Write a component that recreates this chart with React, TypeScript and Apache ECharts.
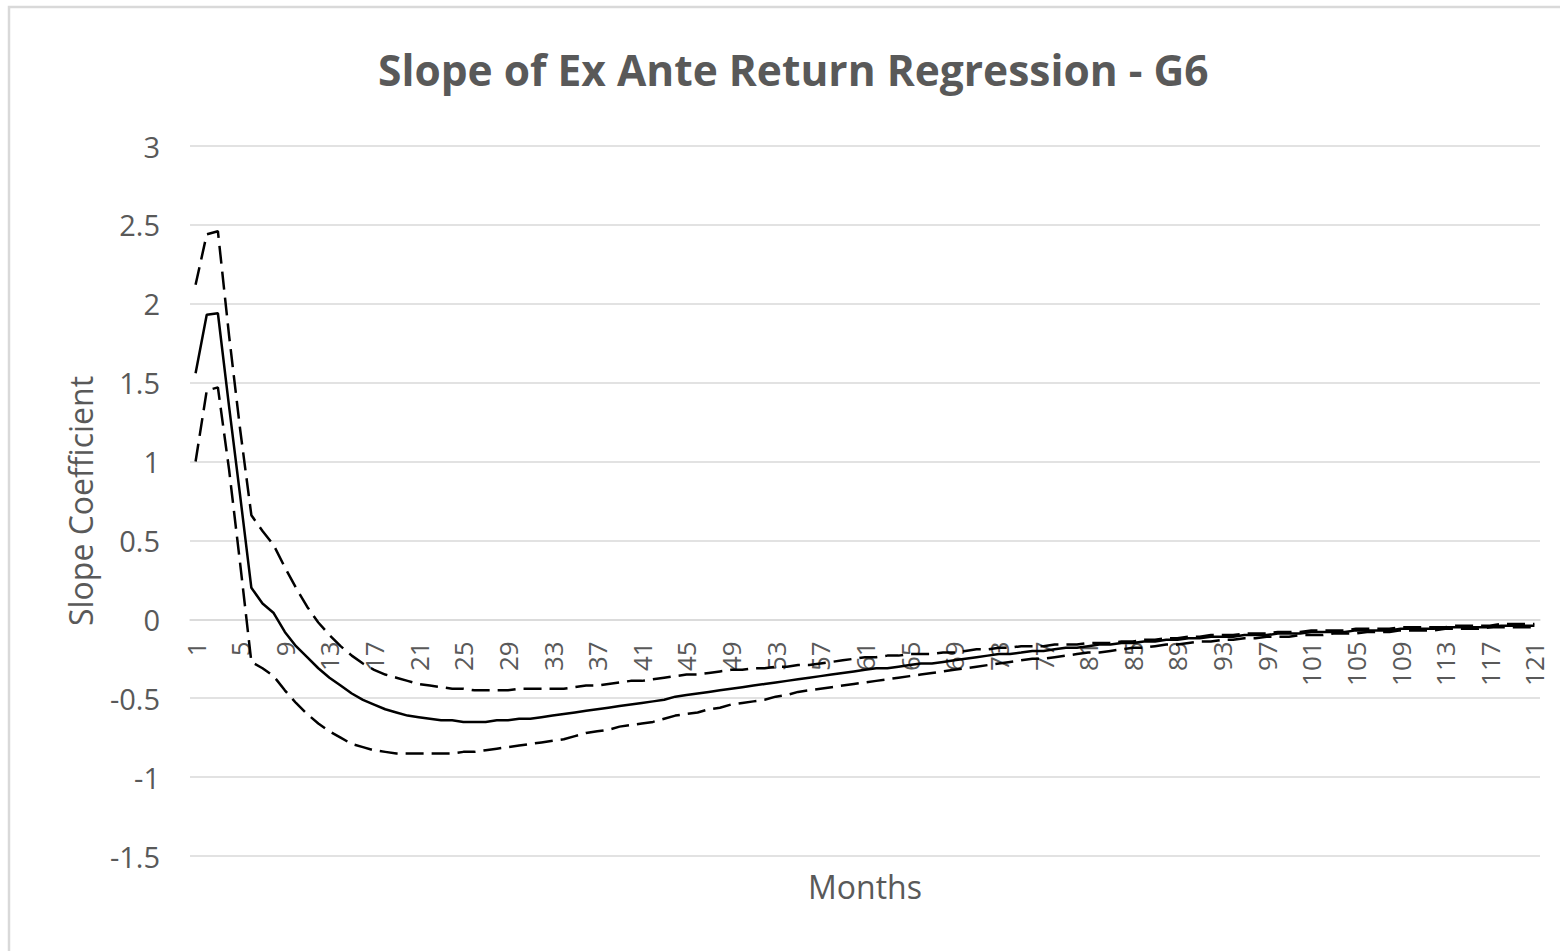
import React, { useEffect, useRef } from "react";
import * as echarts from "echarts";

const months: string[] = [];
for (let m = 1; m <= 121; m++) months.push(String(m));

const slope: number[] = [
  1.56, 1.93, 1.94, 1.35, 0.78, 0.20, 0.10, 0.04, -0.08, -0.17,
  -0.24, -0.31, -0.37, -0.42, -0.47, -0.51, -0.54, -0.57, -0.59, -0.61,
  -0.62, -0.63, -0.64, -0.64, -0.65, -0.65, -0.65, -0.64, -0.64, -0.63,
  -0.63, -0.62, -0.61, -0.60, -0.59, -0.58, -0.57, -0.56, -0.55, -0.54,
  -0.53, -0.52, -0.51, -0.49, -0.48, -0.47, -0.46, -0.45, -0.44, -0.43,
  -0.42, -0.41, -0.40, -0.39, -0.38, -0.37, -0.36, -0.35, -0.34, -0.33,
  -0.32, -0.31, -0.31, -0.30, -0.29, -0.28, -0.28, -0.27, -0.26, -0.25,
  -0.24, -0.23, -0.22, -0.22, -0.21, -0.20, -0.20, -0.19, -0.18, -0.18,
  -0.17, -0.16, -0.16, -0.15, -0.15, -0.14, -0.14, -0.13, -0.13, -0.12,
  -0.12, -0.11, -0.11, -0.11, -0.10, -0.10, -0.10, -0.09, -0.09, -0.09,
  -0.08, -0.08, -0.08, -0.08, -0.07, -0.07, -0.07, -0.07, -0.06, -0.06,
  -0.06, -0.06, -0.05, -0.05, -0.05, -0.05, -0.05, -0.04, -0.04, -0.04,
  -0.04,
];

const upper: number[] = [
  2.12, 2.44, 2.46, 1.80, 1.20, 0.66, 0.56, 0.47, 0.33, 0.20,
  0.08, -0.02, -0.10, -0.17, -0.23, -0.28, -0.32, -0.35, -0.37, -0.39,
  -0.41, -0.42, -0.43, -0.44, -0.44, -0.45, -0.45, -0.45, -0.45, -0.44,
  -0.44, -0.44, -0.44, -0.44, -0.43, -0.42, -0.42, -0.41, -0.40, -0.39,
  -0.39, -0.38, -0.37, -0.36, -0.35, -0.35, -0.34, -0.33, -0.32, -0.32,
  -0.31, -0.31, -0.30, -0.30, -0.29, -0.29, -0.28, -0.27, -0.26, -0.25,
  -0.24, -0.24, -0.23, -0.23, -0.22, -0.22, -0.22, -0.21, -0.21, -0.20,
  -0.19, -0.19, -0.18, -0.18, -0.17, -0.17, -0.17, -0.16, -0.16, -0.16,
  -0.15, -0.15, -0.15, -0.14, -0.14, -0.13, -0.13, -0.12, -0.12, -0.11,
  -0.11, -0.10, -0.10, -0.10, -0.09, -0.09, -0.09, -0.08, -0.08, -0.08,
  -0.07, -0.07, -0.07, -0.07, -0.06, -0.06, -0.06, -0.06, -0.05, -0.05,
  -0.05, -0.05, -0.05, -0.04, -0.04, -0.04, -0.04, -0.03, -0.03, -0.03,
  -0.03,
];

const lower: number[] = [
  1.00, 1.45, 1.47, 0.95, 0.35, -0.27, -0.31, -0.36, -0.45, -0.53,
  -0.60, -0.66, -0.71, -0.75, -0.79, -0.81, -0.83, -0.84, -0.85, -0.85,
  -0.85, -0.85, -0.85, -0.85, -0.84, -0.84, -0.83, -0.82, -0.81, -0.80,
  -0.79, -0.78, -0.77, -0.76, -0.74, -0.72, -0.71, -0.70, -0.68, -0.67,
  -0.66, -0.65, -0.63, -0.61, -0.60, -0.59, -0.57, -0.56, -0.54, -0.53,
  -0.52, -0.51, -0.49, -0.48, -0.46, -0.45, -0.44, -0.43, -0.42, -0.41,
  -0.40, -0.39, -0.38, -0.37, -0.36, -0.35, -0.34, -0.33, -0.32, -0.31,
  -0.30, -0.29, -0.28, -0.27, -0.26, -0.25, -0.25, -0.24, -0.23, -0.22,
  -0.21, -0.21, -0.20, -0.19, -0.18, -0.18, -0.17, -0.16, -0.16, -0.15,
  -0.14, -0.14, -0.13, -0.13, -0.12, -0.12, -0.11, -0.11, -0.11, -0.10,
  -0.10, -0.10, -0.09, -0.09, -0.09, -0.08, -0.08, -0.08, -0.07, -0.07,
  -0.07, -0.07, -0.06, -0.06, -0.06, -0.06, -0.05, -0.05, -0.05, -0.05,
  -0.05,
];

const TITLE = "Slope of Ex Ante Return Regression - G6";
const X_NAME = "Months";
const Y_NAME = "Slope Coefficient";

const FONT = "'Open Sans', sans-serif";
const TEXT_COLOR = "#595959";
const GRID_COLOR = "#d9d9d9";

// y range of the plot
const Y_MIN = -1.5;
const Y_MAX = 3;
const GRID_TOP = 146;
const GRID_BOTTOM_Y = 856;
// offset that lifts the category axis from the bottom edge to the y = 0 line
const ZERO_OFFSET = -((GRID_BOTTOM_Y - GRID_TOP) * (0 - Y_MIN)) / (Y_MAX - Y_MIN);

export default function App() {
  const ref = useRef<HTMLDivElement>(null);
  useEffect(() => {
    if (!ref.current) return;
    const chart = echarts.init(ref.current, undefined, { renderer: "svg" });
    const lineStyleBase = { color: "#000", width: 2.5 };
    chart.setOption({
      animation: false,
      backgroundColor: "#fff",
      textStyle: { fontFamily: FONT },
      title: {
        text: TITLE,
        left: 373,
        top: 43,
        textStyle: {
          fontFamily: FONT,
          fontSize: 42.5,
          fontWeight: "bold",
          color: TEXT_COLOR,
        },
      },
      graphic: [
        {
          type: "rect",
          shape: { x: 9, y: 7, width: 1700, height: 1100 },
          style: { fill: "none", stroke: GRID_COLOR, lineWidth: 2.5 },
          silent: true,
          z: 100,
        },
      ],
      grid: {
        left: 190,
        right: 20,
        top: GRID_TOP,
        bottom: 951 - GRID_BOTTOM_Y,
        containLabel: false,
        outerBoundsMode: "none",
      },
      xAxis: {
        type: "category",
        data: months,
        boundaryGap: true,
        position: "bottom",
        offset: ZERO_OFFSET,
        name: X_NAME,
        nameLocation: "middle",
        nameGap: 251,
        nameTextStyle: { fontFamily: FONT, fontSize: 32, color: TEXT_COLOR },
        axisLine: { onZero: false, lineStyle: { color: GRID_COLOR, width: 1.5 } },
        axisTick: { show: false },
        axisLabel: {
          interval: 3,
          rotate: 90,
          margin: 22,
          fontFamily: FONT,
          fontSize: 26,
          color: TEXT_COLOR,
        },
        splitLine: { show: false },
      },
      yAxis: {
        type: "value",
        min: Y_MIN,
        max: Y_MAX,
        interval: 0.5,
        name: Y_NAME,
        nameLocation: "middle",
        nameGap: 94,
        nameRotate: 90,
        nameTextStyle: { fontFamily: FONT, fontSize: 32, color: TEXT_COLOR },
        axisLine: { show: false },
        axisTick: { show: false },
        axisLabel: {
          margin: 30,
          fontFamily: FONT,
          fontSize: 29,
          color: TEXT_COLOR,
        },
        splitLine: { lineStyle: { color: GRID_COLOR, width: 1.5 } },
      },
      series: [
        {
          name: "Upper",
          type: "line",
          data: upper,
          symbol: "none",
          lineStyle: { ...lineStyleBase, type: [18, 8] },
        },
        {
          name: "Slope",
          type: "line",
          data: slope,
          symbol: "none",
          lineStyle: { ...lineStyleBase, type: "solid" },
        },
        {
          name: "Lower",
          type: "line",
          data: lower,
          symbol: "none",
          lineStyle: { ...lineStyleBase, type: [18, 8] },
        },
      ],
    });
    return () => chart.dispose();
  }, []);
  return (
    <div
      ref={ref}
      style={{ position: "absolute", left: 0, top: 0, width: 1560, height: 951 }}
    />
  );
}
